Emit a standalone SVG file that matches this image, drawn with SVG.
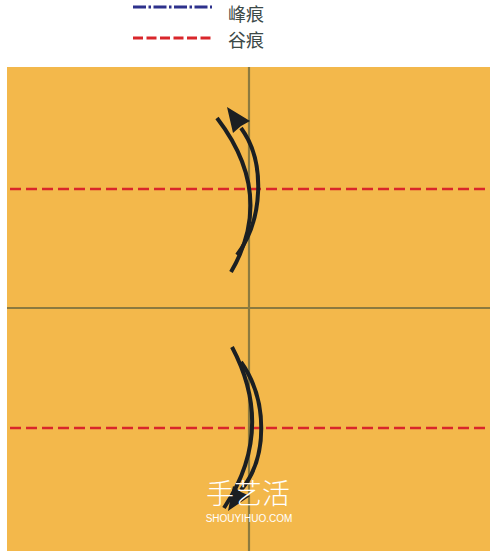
<svg xmlns="http://www.w3.org/2000/svg" width="500" height="558" viewBox="0 0 500 558">
<style>
.fold{stroke:#8b7a3f;stroke-width:2.2;fill:none}
.valley{stroke:#d9262b;stroke-width:2.6;stroke-dasharray:11 5;fill:none}
.arr{stroke:#1b1f22;stroke-width:4;fill:none;stroke-linecap:butt}
.head{fill:#1b1f22}
.lg{font-family:"Noto Sans CJK SC","Noto Sans",sans-serif;font-size:18px;fill:#3d4a48}
</style>
<rect width="500" height="558" fill="#ffffff"/>
<g id="legend">
<line x1="133" y1="7" x2="212" y2="7" stroke="#2d318c" stroke-width="3" stroke-dasharray="13 2.5 2.5 2.5"/>
<text class="lg" x="228" y="21">峰痕</text>
<line x1="133" y1="38" x2="212" y2="38" stroke="#d9262b" stroke-width="3" stroke-dasharray="10 3.5"/>
<text class="lg" x="228" y="47">谷痕</text>
</g>
<g id="paper">
<rect x="7" y="67" width="483" height="484" fill="#f3b84b"/>
</g>
<g id="creases">
<line class="fold" x1="249" y1="67" x2="249" y2="551"/>
<line class="fold" x1="7" y1="308" x2="490" y2="308"/>
<line class="valley" x1="10" y1="189" x2="490" y2="189"/>
<line class="valley" x1="10" y1="428" x2="490" y2="428"/>
</g>
<g id="connectors">
<path class="arr" d="M217,118 Q276,195 231,272"/>
<path class="arr" d="M237,255 C263,220 266,162 241,128"/>
<polygon class="head" points="227,107 250,121 241,126 233,133"/>
<path class="arr" d="M232,347 Q276,430 224,508"/>
<path class="arr" d="M241,362 C268,400 268,458 241,490"/>
<polygon class="head" points="228,511 233,486 241,492 250,496"/>
</g>
<g id="watermark">
<text x="248" y="504" text-anchor="middle" font-family="Noto Sans CJK SC,sans-serif" font-size="28" fill="#ffffff" font-weight="300">手艺活</text>
<text x="249" y="522" text-anchor="middle" font-family="Liberation Sans,sans-serif" font-size="10" fill="#ffffff">SHOUYIHUO.COM</text>
</g>
</svg>
